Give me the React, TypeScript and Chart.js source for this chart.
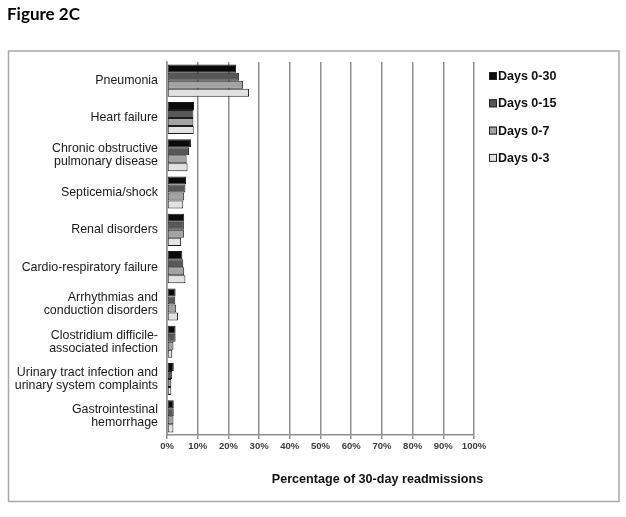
import React, { useEffect, useRef } from "react";
import { Chart, registerables } from "chart.js";

Chart.register(...registerables);

const categories: string[][] = [
  ["Pneumonia"],
  ["Heart failure"],
  ["Chronic obstructive", "pulmonary disease"],
  ["Septicemia/shock"],
  ["Renal disorders"],
  ["Cardio-respiratory failure"],
  ["Arrhythmias and", "conduction disorders"],
  ["Clostridium difficile-", "associated infection"],
  ["Urinary tract infection and", "urinary system complaints"],
  ["Gastrointestinal", "hemorrhage"],
];

const seriesLabels = ["Days 0-30", "Days 0-15", "Days 0-7", "Days 0-3"];
const days0to30 = [22.5, 8.8, 7.8, 6.2, 5.6, 5.0, 2.8, 2.8, 2.2, 2.2];
const days0to15 = [23.5, 8.6, 7.2, 6.0, 5.5, 5.3, 2.7, 2.8, 1.7, 2.2];
const days0to7 = [24.8, 8.6, 6.4, 5.6, 5.5, 5.6, 3.0, 2.1, 1.4, 2.1];
const days0to3 = [26.7, 8.7, 6.7, 5.3, 4.6, 6.0, 3.6, 1.7, 1.4, 2.1];
const seriesColors = ["#0a0a0a", "#575757", "#a3a3a3", "#e2e2e2"];

const xMin = 0;
const xMax = 100;
const xStep = 10;
const xTitle = "Percentage of 30-day readmissions";
const figureTitle = "Figure 2C";

const FONT = "'Liberation Sans', Arial, sans-serif";

const decorPlugin = {
  id: "decor",
  beforeDraw(chart: any) {
    const ctx = chart.ctx;
    ctx.save();
    ctx.strokeStyle = "#a8a8a8";
    ctx.lineWidth = 1.5;
    ctx.strokeRect(8.5, 51, 610.5, 450.5);
    ctx.restore();
  },
  afterDraw(chart: any) {
    const ctx = chart.ctx;
    ctx.save();
    // legend
    const datasets = chart.data.datasets;
    ctx.font = `bold 12.5px ${FONT}`;
    ctx.textBaseline = "middle";
    ctx.textAlign = "left";
    datasets.forEach((ds: any, i: number) => {
      const cy = 76 + i * 27.3;
      ctx.fillStyle = ds.backgroundColor;
      ctx.fillRect(489, cy - 4, 8, 8);
      ctx.strokeStyle = "#222";
      ctx.lineWidth = 1;
      ctx.strokeRect(489.5, cy - 3.5, 7, 7);
      ctx.fillStyle = "#111";
      ctx.fillText(ds.label, 498, cy + 0.5);
    });
    // axis title
    ctx.font = `bold 12.6px ${FONT}`;
    ctx.fillStyle = "#111";
    ctx.textAlign = "center";
    ctx.fillText(xTitle, 377.5, 480);
    ctx.restore();
  },
};

export default function App() {
  const ref = useRef<HTMLCanvasElement | null>(null);

  useEffect(() => {
    if (!ref.current) return;
    const seriesValues = [days0to30, days0to15, days0to7, days0to3];
    const chart = new Chart(ref.current, {
      type: "bar",
      data: {
        labels: categories,
        datasets: seriesLabels.map((label, i) => ({
          label,
          data: seriesValues[i],
          backgroundColor: seriesColors[i],
          borderColor: "#1e1e1e",
          borderWidth: 1,
          borderSkipped: false,
          categoryPercentage: 0.86,
          barPercentage: 1.0,
        })),
      },
      options: {
        indexAxis: "y",
        responsive: false,
        animation: false,
        maintainAspectRatio: false,
        layout: { padding: { left: 0, top: 62, right: 152, bottom: 42 } },
        plugins: {
          legend: { display: false },
          title: { display: false },
          tooltip: { enabled: false },
        },
        scales: {
          x: {
            type: "linear",
            position: "bottom",
            min: xMin,
            max: xMax,
            ticks: {
              stepSize: xStep,
              padding: 2,
              color: "#3c3c3c",
              font: { family: FONT, size: 9.5, weight: "bold" },
              callback: (v: any) => `${v}%`,
              maxRotation: 0,
            },
            grid: {
              color: "#8e8e8e",
              lineWidth: 1.5,
              drawTicks: true,
              tickLength: 4,
              z: -1,
            },
            border: { display: true, color: "#8e8e8e", width: 1.5 },
            afterFit: (scale: any) => {
              scale.height = 40;
            },
          },
          y: {
            type: "category",
            position: "left",
            offset: true,
            ticks: {
              padding: 9,
              color: "#1a1a1a",
              font: { family: FONT, size: 12.4, lineHeight: 1.05 },
              autoSkip: false,
            },
            grid: { display: false, drawTicks: false },
            border: { display: true, color: "#8e8e8e", width: 1.5 },
            afterFit: (scale: any) => {
              scale.width = 167;
            },
          },
        },
      },
      plugins: [decorPlugin],
    });
    return () => chart.destroy();
  }, []);

  return (
    <div
      style={{
        position: "fixed",
        left: 0,
        top: 0,
        width: 626,
        height: 517,
        background: "#fff",
      }}
    >
      <canvas
        ref={ref}
        width={626}
        height={517}
        style={{ position: "absolute", left: 0, top: 0, width: 626, height: 517 }}
      />
      <div
        style={{
          position: "absolute",
          left: 7,
          top: 2,
          fontFamily: "Lato, 'Open Sans', sans-serif",
          fontWeight: 700,
          fontSize: 17,
          color: "#000",
          lineHeight: "24px",
        }}
      >
        {figureTitle}
      </div>
    </div>
  );
}
